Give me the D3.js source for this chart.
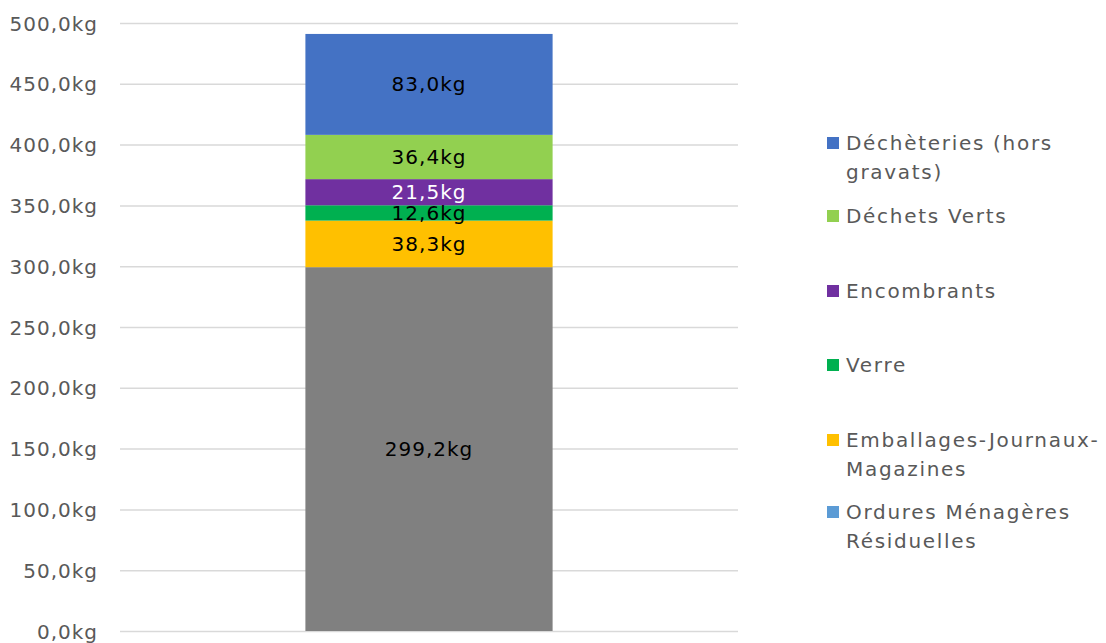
<!DOCTYPE html>
<html>
<head>
<meta charset="utf-8">
<script src="https://cdn.jsdelivr.net/npm/d3@7"></script>
<style>
  html, body { margin: 0; padding: 0; background: #fff; }
  svg text { font-family: "DejaVu Sans", sans-serif; }
</style>
</head>
<body>
<svg id="chart" width="1106" height="643"></svg>
<script>
// Waste streams, bottom to top of the stack
const categories = [
  "Ordures Ménagères Résiduelles",
  "Emballages-Journaux-Magazines",
  "Verre",
  "Encombrants",
  "Déchets Verts",
  "Déchèteries (hors gravats)"
];
const values = [299.2, 38.3, 12.6, 21.5, 36.4, 83.0];
const barColors = ["#808080", "#FFC000", "#00B050", "#7030A0", "#92D050", "#4472C4"];
const legendColors = ["#5B9BD5", "#FFC000", "#00B050", "#7030A0", "#92D050", "#4472C4"];
const labelColors = ["#000", "#000", "#000", "#fff", "#000", "#000"];
const legendLines = [
  ["Ordures Ménagères", "Résiduelles"],
  ["Emballages-Journaux-", "Magazines"],
  ["Verre"],
  ["Encombrants"],
  ["Déchets Verts"],
  ["Déchèteries (hors", "gravats)"]
];
const yTicks = [0, 50, 100, 150, 200, 250, 300, 350, 400, 450, 500];

const svg = d3.select("#chart");
const plot = { left: 120, right: 738, top: 23, bottom: 631 };

const y = d3.scaleLinear().domain([0, 500]).range([plot.bottom, plot.top]);
const x = d3.scaleBand().domain(["total"]).range([plot.left, plot.right]).paddingInner(0.6).paddingOuter(0.3);

const fmt = v => d3.format(".1f")(v).replace(".", ",") + "kg";

// gridlines
svg.append("g").selectAll("line").data(yTicks).join("line")
  .attr("x1", plot.left).attr("x2", plot.right)
  .attr("y1", d => y(d) + 0.5).attr("y2", d => y(d) + 0.5)
  .attr("stroke", "#d9d9d9").attr("stroke-width", 1.5);

// y axis labels
const yAxis = d3.axisLeft(y).tickValues(yTicks).tickFormat(fmt).tickSize(0).tickPadding(22);
const ya = svg.append("g").attr("transform", `translate(${plot.left},0)`).call(yAxis);
ya.select(".domain").remove();
ya.selectAll("text").attr("fill", "#595959").style("font-size", "20px")
  .style("letter-spacing", "1px").attr("dy", "0.35em");

// stacked segments
const stacked = [];
let acc = 0;
values.forEach((v, i) => { stacked.push({ i, y0: acc, y1: acc + v, v }); acc += v; });

const bx = x("total"), bw = x.bandwidth();
svg.append("g").selectAll("rect").data(stacked).join("rect")
  .attr("x", bx).attr("width", bw)
  .attr("y", d => y(d.y1)).attr("height", d => y(d.y0) - y(d.y1))
  .attr("fill", d => barColors[d.i]);

svg.append("g").selectAll("text").data(stacked).join("text")
  .attr("x", bx + bw / 2).attr("y", d => y((d.y0 + d.y1) / 2))
  .attr("dy", "0.35em").attr("text-anchor", "middle")
  .attr("fill", d => labelColors[d.i]).style("font-size", "20px")
  .style("letter-spacing", "1px")
  .text(d => fmt(d.v));

// legend (top entry first)
const legendY = [143, 216, 291, 365, 440, 512];
const order = [5, 4, 3, 2, 1, 0];
const lg = svg.append("g");
order.forEach((ci, k) => {
  const cy = legendY[k];
  lg.append("rect").attr("x", 827).attr("y", cy - 6).attr("width", 12).attr("height", 12)
    .attr("fill", legendColors[ci]);
  legendLines[ci].forEach((line, j) => {
    lg.append("text").attr("x", 846).attr("y", cy + j * 29).attr("dy", "0.35em")
      .attr("fill", "#595959").style("font-size", "20px")
      .style("letter-spacing", "1.7px").text(line);
  });
});
</script>
</body>
</html>
